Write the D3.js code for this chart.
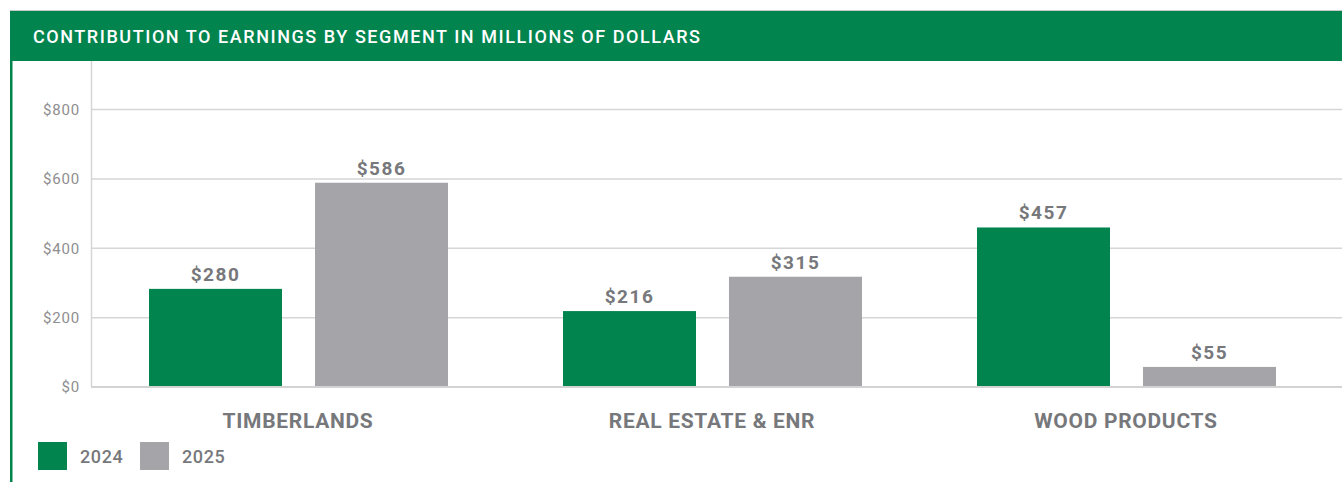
<!DOCTYPE html>
<meta charset="utf-8">
<style>
body { margin: 0; background: #fff; }
svg { display: block; font-family: "Roboto", "Liberation Sans", sans-serif; }
.grid line { stroke: #d6d6d6; stroke-width: 1.5px; }
.tick-label { fill: #8e8e90; font-size: 15px; letter-spacing: 0.8px; }
.value { fill: #77787b; font-size: 19px; font-weight: 700; text-anchor: middle; letter-spacing: 1.5px; }
.cat { fill: #77787b; font-size: 21px; font-weight: 700; text-anchor: middle; letter-spacing: 0.7px; }
.legend text { fill: #77787b; font-size: 18px; font-weight: 500; letter-spacing: 0.6px; }
</style>
<svg width="1342" height="482"></svg>
<script src="https://cdn.jsdelivr.net/npm/d3@7"></script>
<script>

var categories = ["TIMBERLANDS", "REAL ESTATE & ENR", "WOOD PRODUCTS"];
var years = ["2024", "2025"];
var values2024 = [280, 216, 457];
var values2025 = [586, 315, 55];
var yTicks = [0, 200, 400, 600, 800];

var green = "#02844f",
    grey = "#a5a4a9";

var svg = d3.select("svg");

// header
svg.append("line")
    .attr("x1", 10).attr("x2", 1342).attr("y1", 10.5).attr("y2", 10.5)
    .attr("stroke", "#c9c9c9");
svg.append("rect")
    .attr("x", 10).attr("y", 11).attr("width", 1332).attr("height", 50)
    .attr("fill", green);
svg.append("text")
    .attr("x", 33).attr("y", 43)
    .attr("fill", "#fff")
    .attr("textLength", 667)
    .attr("lengthAdjust", "spacing")
    .style("font-size", "18px")
    .style("font-weight", 500)
    .text("CONTRIBUTION TO EARNINGS BY SEGMENT IN MILLIONS OF DOLLARS");

// left green rule
svg.append("rect")
    .attr("x", 10).attr("y", 61).attr("width", 2.5).attr("height", 421)
    .attr("fill", green);

var y = d3.scaleLinear().domain([0, 800]).range([386, 108.5]);
var x0 = d3.scaleBand().domain(categories).range([91, 1333]);
var x1 = d3.scaleBand().domain(years).range([58, 357]).paddingInner(33 / 166);
var colour = d3.scaleOrdinal().domain(years).range([green, grey]);

// y axis line
svg.append("line")
    .attr("x1", 91.5).attr("x2", 91.5).attr("y1", 61).attr("y2", 387)
    .attr("stroke", "#d6d6d6").attr("stroke-width", 1.5);

var grid = svg.append("g").attr("class", "grid");
grid.selectAll("line")
    .data(yTicks.filter(function(d) { return d > 0; }))
    .enter().append("line")
    .attr("x1", 91).attr("x2", 1342)
    .attr("y1", function(d) { return y(d) + 1; })
    .attr("y2", function(d) { return y(d) + 1; });

svg.selectAll(".tick-label")
    .data(yTicks)
    .enter().append("text")
    .attr("class", "tick-label")
    .attr("x", 80)
    .attr("y", function(d) { return y(d) + 1; })
    .attr("dy", "0.35em")
    .attr("text-anchor", "end")
    .text(function(d) { return "$" + d; });

var data = categories.map(function(c, i) {
  return { cat: c, vals: [
    { year: "2024", value: values2024[i] },
    { year: "2025", value: values2025[i] }
  ]};
});

var group = svg.selectAll(".group")
    .data(data)
    .enter().append("g")
    .attr("class", "group")
    .attr("transform", function(d) { return "translate(" + x0(d.cat) + ",0)"; });

group.selectAll("rect")
    .data(function(d) { return d.vals; })
    .enter().append("rect")
    .attr("x", function(d) { return x1(d.year); })
    .attr("y", function(d) { return y(d.value); })
    .attr("width", x1.bandwidth())
    .attr("height", function(d) { return y(0) - y(d.value); })
    .attr("fill", function(d) { return colour(d.year); });

group.selectAll(".value")
    .data(function(d) { return d.vals; })
    .enter().append("text")
    .attr("class", "value")
    .attr("x", function(d) { return x1(d.year) + x1.bandwidth() / 2; })
    .attr("y", function(d) { return y(d.value) - 8; })
    .text(function(d) { return "$" + d.value; });

// baseline
svg.append("line")
    .attr("x1", 91).attr("x2", 1342).attr("y1", 387).attr("y2", 387)
    .attr("stroke", "#d3d3d3").attr("stroke-width", 2);

svg.selectAll(".cat")
    .data(categories)
    .enter().append("text")
    .attr("class", "cat")
    .attr("x", function(d) { return x0(d) + x0.bandwidth() / 2; })
    .attr("y", 428)
    .text(function(d) { return d; });

// legend
var legend = svg.append("g").attr("class", "legend");
var legX = [38, 140];
years.forEach(function(yr, i) {
  legend.append("rect")
      .attr("x", legX[i]).attr("y", 442).attr("width", 29).attr("height", 28)
      .attr("fill", colour(yr));
  legend.append("text")
      .attr("x", legX[i] + 42).attr("y", 463)
      .text(yr);
});
</script>
